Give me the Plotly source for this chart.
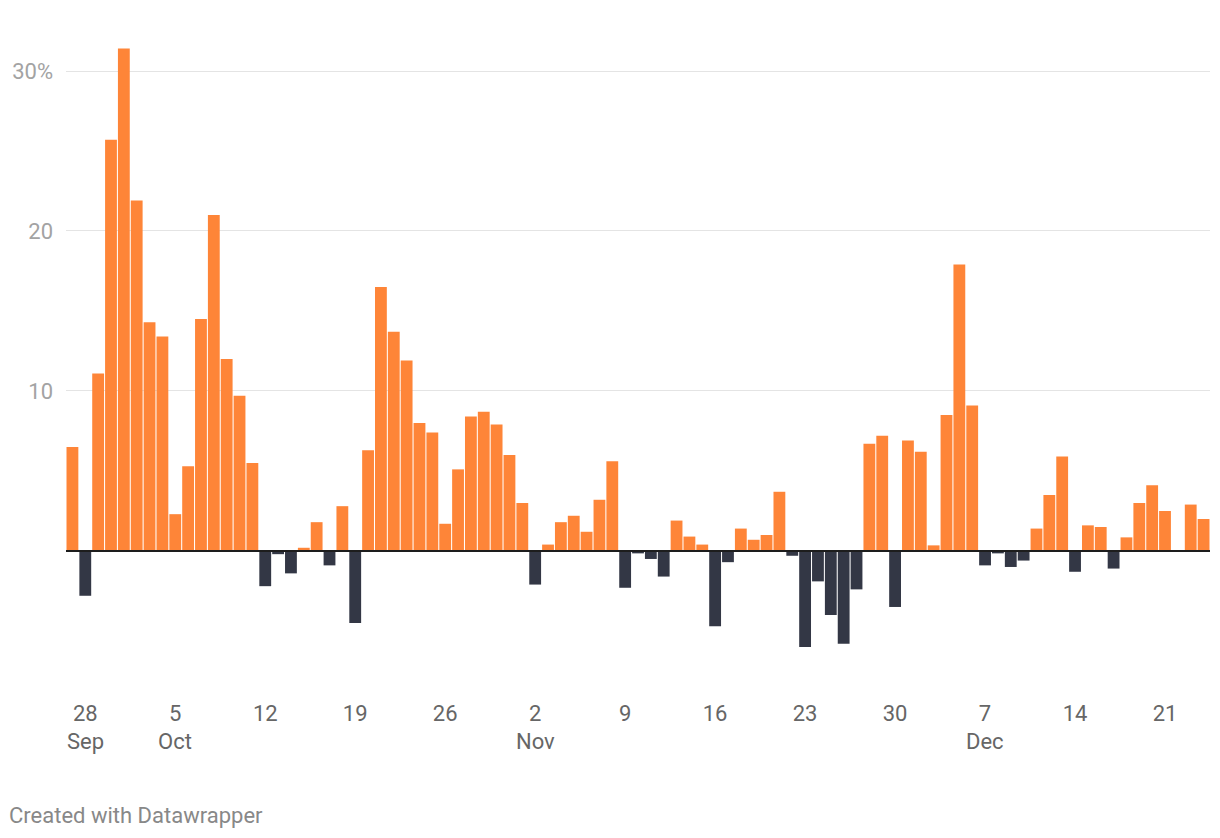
import pandas as pd
import plotly.graph_objects as go

start_date = "2020-09-27"
values = [
    6.5, -2.8, 11.1, 25.7,                                   # Sep 27-30
    31.4, 21.9, 14.3, 13.4, 2.3, 5.3, 14.5, 21.0, 12.0, 9.7,  # Oct 1-10
    5.5, -2.2, -0.2, -1.4, 0.2, 1.8, -0.9, 2.8, -4.5, 6.3,    # Oct 11-20
    16.5, 13.7, 11.9, 8.0, 7.4, 1.7, 5.1, 8.4, 8.7, 7.9, 6.0,  # Oct 21-31
    3.0, -2.1, 0.4, 1.8, 2.2, 1.2, 3.2, 5.6, -2.3, -0.15,     # Nov 1-10
    -0.5, -1.6, 1.9, 0.9, 0.4, -4.7, -0.7, 1.4, 0.7, 1.0,     # Nov 11-20
    3.7, -0.3, -6.0, -1.9, -4.0, -5.8, -2.4, 6.7, 7.2, -3.5,  # Nov 21-30
    6.9, 6.2, 0.35, 8.5, 17.9, 9.1, -0.9, -0.15, -1.0, -0.6,  # Dec 1-10
    1.4, 3.5, 5.9, -1.3, 1.6, 1.5, -1.1, 0.85, 3.0, 4.1,      # Dec 11-20
    2.5, 0.0, 2.9, 2.0,                                       # Dec 21-24
]
dates = pd.date_range(start_date, periods=len(values), freq="D")

tick_dates = ["2020-09-28", "2020-10-05", "2020-10-12", "2020-10-19", "2020-10-26",
              "2020-11-02", "2020-11-09", "2020-11-16", "2020-11-23", "2020-11-30",
              "2020-12-07", "2020-12-14", "2020-12-21"]
tick_labels = ["28", "5", "12", "19", "26", "2", "9", "16", "23", "30", "7", "14", "21"]
month_dates = ["2020-09-28", "2020-10-05", "2020-11-02", "2020-12-07"]
month_labels = ["Sep", "Oct", "Nov", "Dec"]

y_ticks = [10, 20, 30]
y_tick_labels = ["10", "20", "30%"]

POS = "#fe8538"
NEG = "#333745"
colors = [POS if v >= 0 else NEG for v in values]

FONT = "Roboto"

fig = go.Figure(go.Bar(x=dates, y=values, marker_color=colors, marker_line_width=0))

# page has an 8px body margin; figure coordinates are offset accordingly
W, H = 1212, 830
plot_left, plot_right, plot_top, plot_bottom = 66 - 8, 1210 - 8, 31 - 8, 690 - 8
ph = plot_bottom - plot_top
pw = plot_right - plot_left

fig.update_layout(
    width=W, height=H,
    margin=dict(l=plot_left, r=W - plot_right, t=plot_top, b=H - plot_bottom),
    plot_bgcolor="white", paper_bgcolor="white",
    bargap=0.08,
    showlegend=False,
    font=dict(family=FONT),
    xaxis=dict(
        type="date",
        range=["2020-09-26 12:00", "2020-12-24 12:00"],
        tickvals=tick_dates, ticktext=tick_labels,
        showgrid=False, zeroline=False, showline=False, ticks="",
        tickfont=dict(family=FONT, size=22, color="#666666"),
        ticklabelstandoff=8, automargin=False,
    ),
    yaxis=dict(
        range=[-8.69, 32.5],
        tickvals=y_ticks, ticktext=y_tick_labels,
        showgrid=True, gridcolor="#e4e4e4", gridwidth=1,
        zeroline=False, showline=False, ticks="",
        tickfont=dict(family=FONT, size=22, color="#a3a3a3"),
        ticklabelstandoff=12, automargin=False,
    ),
)

fig.add_shape(type="line", xref="paper", yref="y", x0=0, x1=1, y0=0, y1=0,
              line=dict(color="#1d1d1d", width=2), layer="above")

for d, m in zip(month_dates, month_labels):
    fig.add_annotation(x=d, xref="x", yref="paper", y=(690 - 742) / ph,
                       text=m, showarrow=False, xanchor="center", yanchor="middle",
                       font=dict(family=FONT, size=22, color="#666666"))

fig.add_annotation(xref="paper", yref="paper", x=(7 - 66) / pw, y=(690 - 815) / ph,
                   text="Created with Datawrapper", showarrow=False,
                   xanchor="left", yanchor="middle",
                   font=dict(family=FONT, size=22, color="#888888"))

fig.write_html("out.html")
